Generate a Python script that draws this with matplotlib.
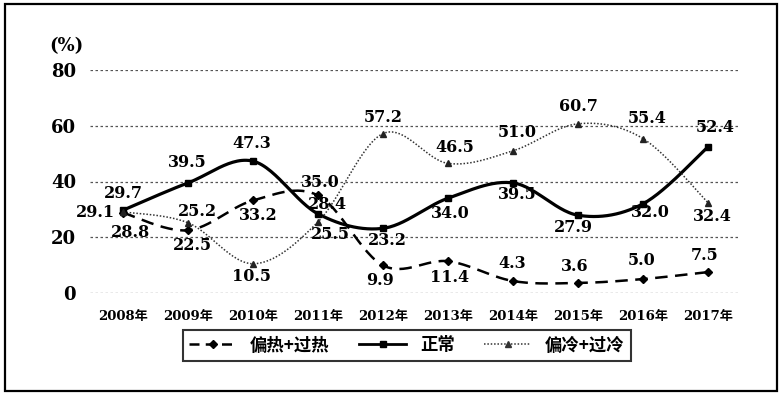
import numpy as np
import matplotlib.pyplot as plt
from matplotlib.lines import Line2D
from matplotlib.patches import Rectangle

plt.rcParams['font.family'] = ['DejaVu Serif', 'Noto Sans CJK SC']

years = ['2008年', '2009年', '2010年', '2011年', '2012年',
         '2013年', '2014年', '2015年', '2016年', '2017年']
hot = [28.8, 22.5, 33.2, 35.0, 9.9, 11.4, 4.3, 3.6, 5.0, 7.5]
normal = [29.7, 39.5, 47.3, 28.4, 23.2, 34.0, 39.5, 27.9, 32.0, 52.4]
cold = [29.1, 25.2, 10.5, 25.5, 57.2, 46.5, 51.0, 60.7, 55.4, 32.4]
names = ['偏热+过热', '正常', '偏冷+过冷']

# label offsets in pixels (dx, dy)
hot_off = [(7, -20), (4, -15), (5, -15), (2, 13), (-3, -15), (2, -16),
           (-1, 18), (-3, 16), (-1, 19), (-3, 17)]
normal_off = [(0, 17), (-1, 20), (-1, 18), (9, 9), (4, -12), (2, -15),
              (4, -12), (-5, -12), (7, -9), (7, 19)]
cold_off = [(-28, -1), (9, 11), (-1, -13), (12, -13), (0, 16), (7, 16),
            (4, 18), (0, 17), (4, 20), (4, -14)]


def smooth(x, y, n=30):
    # bezier smoothing like excel's "smoothed line"
    p = np.column_stack([x, y]).astype(float)
    ext = np.vstack([p[0], p, p[-1]])
    out = []
    for i in range(len(p) - 1):
        p0, p1, p2, p3 = ext[i], ext[i + 1], ext[i + 2], ext[i + 3]
        c1 = p1 + (p2 - p0) / 6
        c2 = p2 - (p3 - p1) / 6
        t = np.linspace(0, 1, n)[:, None]
        seg = ((1 - t) ** 3) * p1 + 3 * ((1 - t) ** 2) * t * c1 \
            + 3 * (1 - t) * t ** 2 * c2 + t ** 3 * p2
        out.append(seg if i == 0 else seg[1:])
    out = np.vstack(out)
    return out[:, 0], out[:, 1]


fig = plt.figure(figsize=(7.84, 3.98), dpi=100)
ax = fig.add_axes([90 / 784, 105 / 398, 648 / 784, 223 / 398])
x = np.arange(len(years))

for yv in [0, 20, 40, 60, 80]:
    ax.axhline(yv, color='#555555', lw=0.9, ls=(0, (2, 2)), zorder=1)

sx, sy = smooth(x, hot)
ax.plot(sx, sy, color='black', lw=1.8, ls=(0, (5, 3)), zorder=3)
ax.plot(x, hot, ls='none', marker='D', ms=4.5, color='black', zorder=4, clip_on=False)

sx, sy = smooth(x, normal)
ax.plot(sx, sy, color='black', lw=2.3, zorder=3)
ax.plot(x, normal, ls='none', marker='s', ms=5, color='black', zorder=4, clip_on=False)

sx, sy = smooth(x, cold)
ax.plot(sx, sy, color='#333333', lw=1.1, ls=(0, (1, 1.2)), zorder=3)
ax.plot(x, cold, ls='none', marker='^', ms=4.5, color='#222222', zorder=4, clip_on=False)

for vals, offs in [(hot, hot_off), (normal, normal_off), (cold, cold_off)]:
    for i, v in enumerate(vals):
        ax.annotate(f'{v:.1f}', (i, v), xytext=offs[i], textcoords='offset pixels',
                    ha='center', va='center', fontsize=11.5, fontweight='bold',
                    color='black', zorder=5)

ax.set_xlim(-33 / 65, 9 + 30 / 65)
ax.set_ylim(0, 80)
ax.set_yticks([0, 20, 40, 60, 80])
ax.set_yticklabels(['0', '20', '40', '60', '80'], fontsize=13, fontweight='bold')
ax.set_xticks(x)
ax.set_xticklabels(years, fontsize=9.5, fontweight='bold')
ax.tick_params(axis='y', length=0, pad=10)
ax.tick_params(axis='x', length=0, pad=12)
for s in ax.spines.values():
    s.set_visible(False)

fig.text(66 / 784, 1 - 46 / 398, '(%)', ha='center', va='center', fontsize=13,
         fontweight='bold')

handles = [
    Line2D([], [], color='black', lw=1.8, ls=(0, (4, 2.5)), marker='D', ms=4.5),
    Line2D([], [], color='black', lw=2.0, marker='s', ms=5),
    Line2D([], [], color='#333333', lw=1.1, ls=(0, (1, 1.2)), marker='^', ms=4.5),
]
leg = fig.legend(handles, names, loc='center', bbox_to_anchor=(407 / 784, 1 - 345.5 / 398),
                 ncol=3, frameon=True, fancybox=False, edgecolor='black',
                 handlelength=2.7, columnspacing=1.7, borderpad=0.35,
                 prop={'family': ['Noto Sans CJK SC'], 'size': 12.5, 'weight': 'bold'})
leg.get_frame().set_linewidth(1.5)

fig.patches.append(Rectangle((5 / 784, 1 - 391 / 398), 772 / 784, 387 / 398,
                             transform=fig.transFigure, fill=False,
                             edgecolor='black', lw=1.6))

fig.savefig('out.png', dpi=100)
